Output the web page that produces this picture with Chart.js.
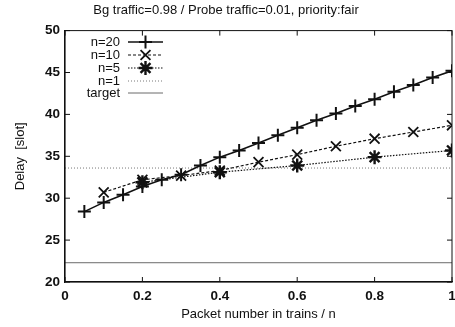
<!DOCTYPE html>
<html>
<head>
<meta charset="utf-8">
<script src="https://cdn.jsdelivr.net/npm/chart.js@4"></script>
<style>
  html, body { margin: 0; padding: 0; background: #fff; }
  #wrap { width: 455px; height: 327px; }
</style>
</head>
<body>
<div id="wrap"><canvas id="delayChart"></canvas></div>
<script>
// series (x = packet number / n, y = delay in slots)
var xN20 = [0.05, 0.1, 0.15, 0.2, 0.25, 0.3, 0.35, 0.4, 0.45, 0.5,
            0.55, 0.6, 0.65, 0.7, 0.75, 0.8, 0.85, 0.9, 0.95, 1.0];
var delayN20 = [28.4, 29.5, 30.4, 31.4, 32.2, 32.8, 33.9, 34.9, 35.7, 36.6,
                37.5, 38.4, 39.3, 40.1, 41.0, 41.8, 42.7, 43.5, 44.4, 45.2];
var xN10 = [0.1, 0.2, 0.3, 0.4, 0.5, 0.6, 0.7, 0.8, 0.9, 1.0];
var delayN10 = [30.7, 32.2, 32.7, 33.3, 34.3, 35.2, 36.2, 37.1, 37.9, 38.7];
var xN5 = [0.2, 0.4, 0.6, 0.8, 1.0];
var delayN5 = [31.9, 33.1, 33.9, 34.9, 35.7];
var xRange = [0, 1];
var delayN1 = 33.6;
var delayTarget = 22.3;

var xTicks = [0, 0.2, 0.4, 0.6, 0.8, 1];
var xTickLabels = ['0', '0.2', '0.4', '0.6', '0.8', '1'];
var yTicks = [20, 25, 30, 35, 40, 45, 50];

var fontFam = '"Liberation Sans", Arial, Helvetica, sans-serif';

function pts(xs, ys) {
  return xs.map(function(x, i) { return { x: x, y: ys[i] }; });
}
function flat(v) {
  return xRange.map(function(x) { return { x: x, y: v }; });
}

var ink = '#111';

var chart = new Chart(document.getElementById('delayChart'), {
  type: 'scatter',
  data: {
    datasets: [
      {
        label: 'n=20',
        data: pts(xN20, delayN20),
        showLine: true,
        borderColor: ink,
        borderWidth: 1.6,
        pointStyle: 'cross',
        pointRadius: 6.5,
        pointBorderWidth: 2,
        pointBorderColor: ink,
        pointBackgroundColor: ink
      },
      {
        label: 'n=10',
        data: pts(xN10, delayN10),
        showLine: true,
        borderColor: ink,
        borderWidth: 1.2,
        borderDash: [3, 2],
        pointStyle: 'crossRot',
        pointRadius: 7,
        pointBorderWidth: 1.8,
        pointBorderColor: ink,
        pointBackgroundColor: ink
      },
      {
        label: 'n=5',
        data: pts(xN5, delayN5),
        showLine: true,
        borderColor: ink,
        borderWidth: 1.2,
        borderDash: [1.5, 1.5],
        pointStyle: 'star',
        pointRadius: 7,
        pointBorderWidth: 2.4,
        pointBorderColor: ink,
        pointBackgroundColor: ink
      },
      {
        label: 'n=1',
        data: flat(delayN1),
        showLine: true,
        borderColor: '#555',
        borderWidth: 0.8,
        borderDash: [1, 2],
        pointRadius: 0
      },
      {
        label: 'target',
        data: flat(delayTarget),
        showLine: true,
        borderColor: '#444',
        borderWidth: 0.8,
        pointRadius: 0
      }
    ]
  },
  options: {
    responsive: true,
    maintainAspectRatio: false,
    animation: false,
    layout: { autoPadding: false, padding: { top: 0, right: 3, bottom: 0, left: 0 } },
    plugins: {
      legend: { display: false },
      tooltip: { enabled: false },
      title: {
        display: true,
        text: 'Bg traffic=0.98 / Probe traffic=0.01, priority:fair',
        color: ink,
        font: { family: fontFam, size: 13, weight: 'normal' },
        padding: { top: 3, bottom: 12 }
      }
    },
    scales: {
      x: {
        type: 'linear',
        min: 0,
        max: 1,
        grid: { display: false, drawTicks: false },
        border: { display: true, color: ink, width: 1.2 },
        afterBuildTicks: function(axis) {
          axis.ticks = xTicks.map(function(v) { return { value: v }; });
        },
        afterFit: function(scale) { scale.height = 45; },
        // labels drawn by the plugin so the last one may hang off the edge
        ticks: { display: false },
        title: {
          display: true,
          text: 'Packet number in trains / n',
          color: ink,
          font: { family: fontFam, size: 13 },
          padding: { top: 2, bottom: 5 }
        }
      },
      y: {
        type: 'linear',
        min: 20,
        max: 50,
        grid: { display: false, drawTicks: false },
        border: { display: true, color: ink, width: 1.2 },
        afterBuildTicks: function(axis) {
          axis.ticks = yTicks.map(function(v) { return { value: v }; });
        },
        afterFit: function(scale) { scale.width = 65; },
        ticks: {
          color: ink,
          padding: 5,
          font: { family: fontFam, size: 13.5, weight: 'bold' }
        },
        title: {
          display: true,
          text: 'Delay  [slot]',
          color: ink,
          font: { family: fontFam, size: 13 },
          padding: { top: 13, bottom: 0 }
        }
      }
    }
  },
  plugins: [{
    id: 'gnuplotFrame',
    afterDatasetsDraw: function(ch) {
      var c = ch.ctx;
      var xs = ch.scales.x, ys = ch.scales.y;
      var a = ch.chartArea;
      c.save();
      c.strokeStyle = ink;
      c.lineWidth = 1;
      c.setLineDash([]);
      // frame
      c.strokeRect(a.left, a.top, a.right - a.left, a.bottom - a.top);
      // inward ticks on all four sides
      c.beginPath();
      xTicks.forEach(function(v) {
        var px = xs.getPixelForValue(v);
        c.moveTo(px, a.bottom); c.lineTo(px, a.bottom - 5);
        c.moveTo(px, a.top); c.lineTo(px, a.top + 5);
      });
      yTicks.forEach(function(v) {
        var py = ys.getPixelForValue(v);
        c.moveTo(a.left, py); c.lineTo(a.left + 5, py);
        c.moveTo(a.right, py); c.lineTo(a.right - 5, py);
      });
      c.stroke();

      // x tick labels
      c.fillStyle = ink;
      c.font = 'bold 13.5px ' + fontFam;
      c.textAlign = 'center';
      c.textBaseline = 'middle';
      xTicks.forEach(function(v, i) {
        c.fillText(xTickLabels[i], xs.getPixelForValue(v), a.bottom + 14);
      });

      // legend, gnuplot style: right-aligned text, sample to the right
      var rowsY = [42, 55, 68, 81, 93];
      var textRight = 120, lineL = 128, lineR = 163;
      c.font = '13px ' + fontFam;
      c.textAlign = 'right';
      ch.data.datasets.forEach(function(ds, i) {
        var y = rowsY[i];
        c.fillStyle = ink;
        c.fillText(ds.label, textRight, y);
        c.beginPath();
        c.strokeStyle = ds.borderColor;
        c.lineWidth = ds.borderWidth;
        c.setLineDash(ds.borderDash || []);
        c.moveTo(lineL, y); c.lineTo(lineR, y);
        c.stroke();
        c.setLineDash([]);
        if (ds.pointRadius > 0) {
          c.strokeStyle = ds.pointBorderColor;
          c.fillStyle = ds.pointBackgroundColor;
          c.lineWidth = ds.pointBorderWidth;
          Chart.helpers.drawPoint(c, {
            pointStyle: ds.pointStyle,
            radius: ds.pointRadius,
            rotation: 0,
            borderWidth: ds.pointBorderWidth
          }, (lineL + lineR) / 2, y);
        }
      });
      c.restore();
    }
  }]
});
</script>
</body>
</html>
